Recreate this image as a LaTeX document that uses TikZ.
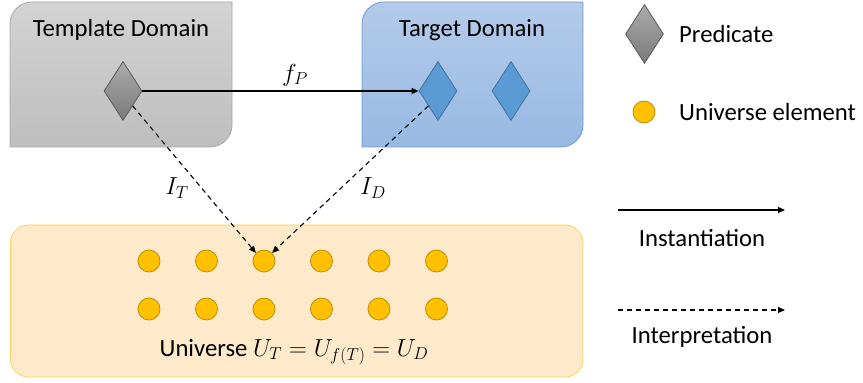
\RequirePackage{fix-cm}
\documentclass[tikz,border=0pt]{standalone}
\usepackage{fontspec}
\setmainfont{Carlito}
\usetikzlibrary{shapes.geometric,arrows.meta}

\definecolor{boxgrayT}{HTML}{D3D3D3}
\definecolor{boxgrayB}{HTML}{BEBEBE}
\definecolor{boxgrayE}{HTML}{A8A8A8}
\definecolor{boxblueT}{HTML}{B4CBEA}
\definecolor{boxblueB}{HTML}{98B9E3}
\definecolor{boxblueE}{HTML}{6C9BD2}
\definecolor{predgrayT}{HTML}{ABABAB}
\definecolor{predgrayB}{HTML}{7A7A7A}
\definecolor{predgrayE}{HTML}{5A5A5A}
\definecolor{predblue}{HTML}{5B9BD5}
\definecolor{predblueE}{HTML}{41719C}
\definecolor{univF}{HTML}{FEEACB}
\definecolor{univE}{HTML}{FBD35A}
\definecolor{dotF}{HTML}{FFC000}
\definecolor{dotE}{HTML}{BF9000}

\begin{document}
\begin{tikzpicture}[x=1pt,y=1pt,
  every node/.style={font=\fontsize{24.7}{29}\selectfont},
  pred/.style={diamond, minimum width=38pt, minimum height=59pt, inner sep=0pt, line width=0.8pt},
  greypred/.style={pred, draw=predgrayE, top color=predgrayT, bottom color=predgrayB},
  bluepred/.style={pred, draw=predblueE, fill=predblue},
  elem/.style={circle, minimum size=22pt, inner sep=0pt, draw=dotE, fill=dotF, line width=0.8pt},
  inst/.style={-{Triangle[length=7pt,width=6pt]}, line width=1.1pt},
  interp/.style={inst, dash pattern=on 5pt off 4pt},
  lbl/.style={inner sep=0pt}
]
\useasboundingbox (0,0) rectangle (863,383);

% domain panels: rounded top-left and bottom-right corners
\path[draw=boxgrayE, line width=0.8pt, top color=boxgrayT, bottom color=boxgrayB]
  (10,236) -- (10,359) arc[start angle=180, end angle=90, radius=22]
  -- (232,381) -- (232,258) arc[start angle=0, end angle=-90, radius=22] -- cycle;
\path[draw=boxblueE, line width=0.8pt, top color=boxblueT, bottom color=boxblueB]
  (362,236) -- (362,359) arc[start angle=180, end angle=90, radius=22]
  -- (583,381) -- (583,258) arc[start angle=0, end angle=-90, radius=22] -- cycle;

% universe panel
\draw[draw=univE, fill=univF, rounded corners=18pt, line width=0.8pt] (10.5,6) rectangle (583,158);

\node[lbl] (tdom) at (121,353) {Template Domain};
\node[lbl] (gdom) at (472,353) {Target Domain};

% predicates
\node[greypred] (tp) at (123,292) {};
\node[bluepred] (dp1) at (438,292) {};
\node[bluepred] (dp2) at (511,292) {};

% universe elements
\foreach \i/\x in {1/149,2/206.5,3/264,4/321.5,5/379,6/436.5} {
  \node[elem] (u\i) at (\x,122) {};
  \node[elem] (v\i) at (\x,74) {};
}
\node[lbl] (ulab) at (294,31) {Universe $U_T=U_{f(T)}=U_D$};

% mappings
\draw[inst] (tp.east) -- (dp1.west);
\node[lbl] (fp) at (295,308) {$f_P$};
\draw[interp] (tp.south east) -- (u3.north west);
\draw[interp] (dp1.south west) -- (u3.north east);
\node[lbl] (it) at (177,195) {$I_T$};
\node[lbl] (id) at (373,195) {$I_D$};

% legend
\node[greypred] (lp) at (644.5,349) {};
\node[lbl, anchor=west] (lpt) at (679,349) {Predicate};
\node[elem] (le) at (644,271) {};
\node[lbl, anchor=west] (let) at (679,271) {Universe element};
\coordinate (ia) at (618,173);
\coordinate (ib) at (785,173);
\draw[inst] (ia) -- (ib);
\node[lbl] (it2) at (702,145) {Instantiation};
\coordinate (ja) at (618,73);
\coordinate (jb) at (785,73);
\draw[interp] (ja) -- (jb);
\node[lbl] (jt) at (702,46) {Interpretation};
\end{tikzpicture}
\end{document}
